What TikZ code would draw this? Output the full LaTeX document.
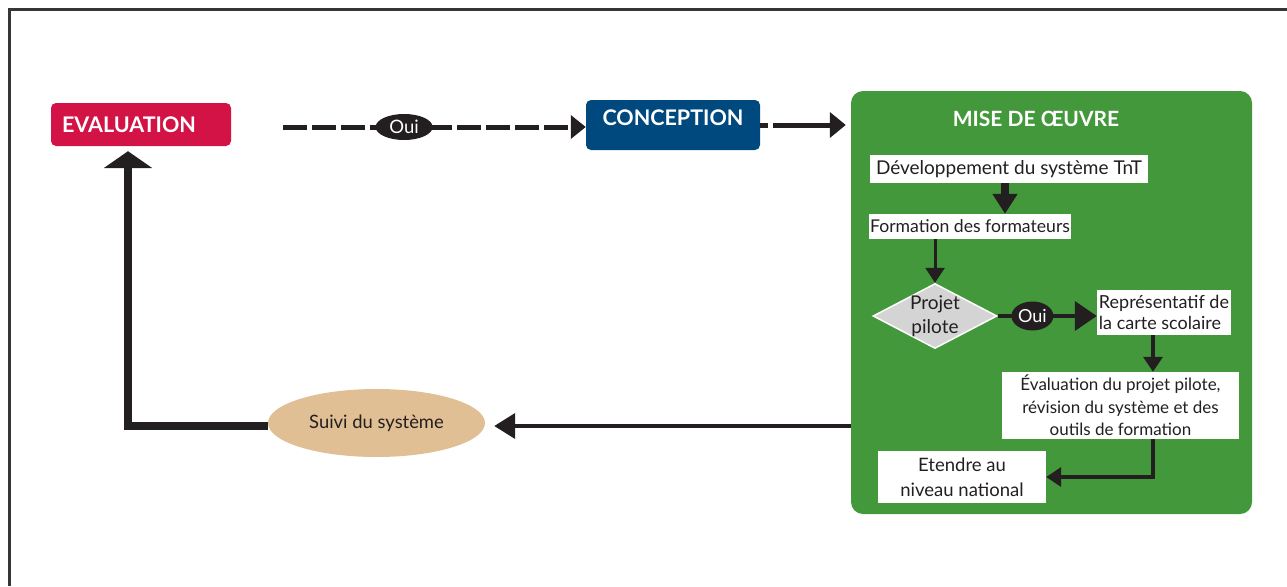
\documentclass[tikz,border=0pt]{standalone}
\usepackage{fontspec}
\setmainfont{Lato}
\usepackage{xcolor}
\usetikzlibrary{shapes, arrows.meta, calc, positioning}

\definecolor{evalred}{HTML}{D31245}
\definecolor{concblue}{HTML}{00497F}
\definecolor{misegreen}{HTML}{43983B}
\definecolor{suivitan}{HTML}{E1BF94}
\definecolor{pilotgray}{HTML}{D4D4D4}
\definecolor{darktxt}{HTML}{231F20}

\begin{document}
\begin{tikzpicture}[
    x=1pt, y=-1pt,
    stage/.style={rectangle, rounded corners=5pt, text=white, inner sep=0pt, font=\bfseries\fontsize{21.5}{24}\selectfont},
    stepbox/.style={rectangle, fill=white, text=darktxt, inner sep=1pt, align=center, font=\fontsize{18}{22}\selectfont},
    choice/.style={diamond, fill=pilotgray, draw=white, line width=1.5pt, inner sep=0pt, minimum width=124pt, minimum height=65pt},
    ouimark/.style={ellipse, fill=darktxt, text=white, inner sep=0pt, font=\fontsize{18.5}{20}\selectfont},
    line/.style={draw=darktxt, line width=4pt, -{Triangle[length=15pt, width=19pt]}},
    dashline/.style={draw=darktxt, line width=5pt, dash pattern=on 24pt off 5pt, -{Triangle[length=15pt, width=23pt]}},
    bigline/.style={draw=darktxt, line width=8pt, -{Triangle[length=17pt, width=48pt]}}
]
    \useasboundingbox (0,0) rectangle (1287,586);

    % Frame
    \draw[draw=darktxt!90, line width=3pt] (1287,10) -- (9.5,10) -- (9.5,586);

    % Nodes
    % Main stages
    \node[stage, fill=evalred, minimum width=180pt, minimum height=43pt, text width=158pt, align=left] (evaluation) at (141,124.5) {EVALUATION};
    \node[stage, fill=concblue, minimum width=174pt, minimum height=50pt, text height=15pt, text depth=15pt] (conception) at (673,125) {CONCEPTION};
    \node[rectangle, rounded corners=12pt, fill=misegreen, minimum width=401pt, minimum height=423pt] (mise) at (1051.5,302.5) {};
    \node[text=white, font=\bfseries\fontsize{21}{24}\selectfont] (miseTitle) at (1036,119) {MISE DE ŒUVRE};

    % Steps inside the green block
    \node[stepbox, minimum width=278pt, minimum height=28pt, font=\fontsize{19}{22}\selectfont] (dev) at (1009,169) {Développement du système TnT};
    \node[stepbox, minimum width=202pt, minimum height=25pt, font=\fontsize{17.6}{20}\selectfont] (formation) at (970,226.5) {Formation des formateurs};
    \node[choice, label={[text=darktxt, align=center, font=\fontsize{19}{24}\selectfont]center:Projet\\pilote}] (pilote) at (935,316) {};
    \node[stepbox, minimum width=134pt, minimum height=45pt, inner sep=0pt, align=left, font=\fontsize{18}{21}\selectfont] (carte) at (1164,312.5) {Représentatif de\\la carte scolaire};
    \node[stepbox, minimum width=237pt, minimum height=67pt, font=\fontsize{17}{22.5}\selectfont] (evalpilote) at (1120.5,405.5) {Évaluation du projet pilote,\\révision du système et des\\outils de formation};
    \node[stepbox, minimum width=168pt, minimum height=52pt, font=\fontsize{18.5}{25}\selectfont] (etendre) at (962,477) {Etendre au\\niveau national};

    % Follow-up
    \node[ellipse, fill=suivitan, minimum width=217pt, minimum height=68pt, inner sep=0pt, text=darktxt, font=\fontsize{18.4}{21}\selectfont] (suivi) at (376.5,423) {Suivi du système};

    % Connections
    % Evaluation to Conception, through the top Oui
    \coordinate (ouiStart) at (283,127);
    \draw[dashline] (ouiStart) -- node[ouimark, pos=0.4, minimum width=57pt, minimum height=26pt] (oui1) {Oui} (conception.west |- ouiStart);

    % Conception to Mise en oeuvre
    \draw[dashline, dash pattern=on 8pt off 5pt on 200pt off 0pt, -{Triangle[length=16pt, width=25pt]}, shorten >=5pt] (conception.east) -- (mise.west |- conception.east);

    % Steps
    \draw[line, line width=8pt, -{Triangle[length=20pt, width=24pt]}] ([xshift=-4pt]dev.south) -- ([xshift=-4pt]dev.south |- formation.north);
    \draw[line, line width=3pt] (formation.south -| pilote.north) -- (pilote.north);
    \draw[line, -{Triangle[length=22pt, width=29pt]}] (pilote.east) -- node[ouimark, pos=0.35, minimum width=42pt, minimum height=29pt, font=\fontsize{18}{20}\selectfont] (oui2) {Oui} (carte.west |- pilote.east);
    \draw[line] ([xshift=-11pt]carte.south) -- ([xshift=-11pt]carte.south |- evalpilote.north);
    \draw[line] ([xshift=32.5pt]evalpilote.south) |- (etendre.east);

    % Back to Evaluation
    \coordinate (suiviLevel) at (0,426);
    \draw[line, -{Triangle[length=21pt, width=25pt]}, shorten >=9pt] (mise.west |- suiviLevel) -- (suivi.east |- suiviLevel);
    \draw[bigline, shorten >=5pt] (suivi.west |- suiviLevel) -| ([xshift=-13pt]evaluation.south);

\end{tikzpicture}
\end{document}
